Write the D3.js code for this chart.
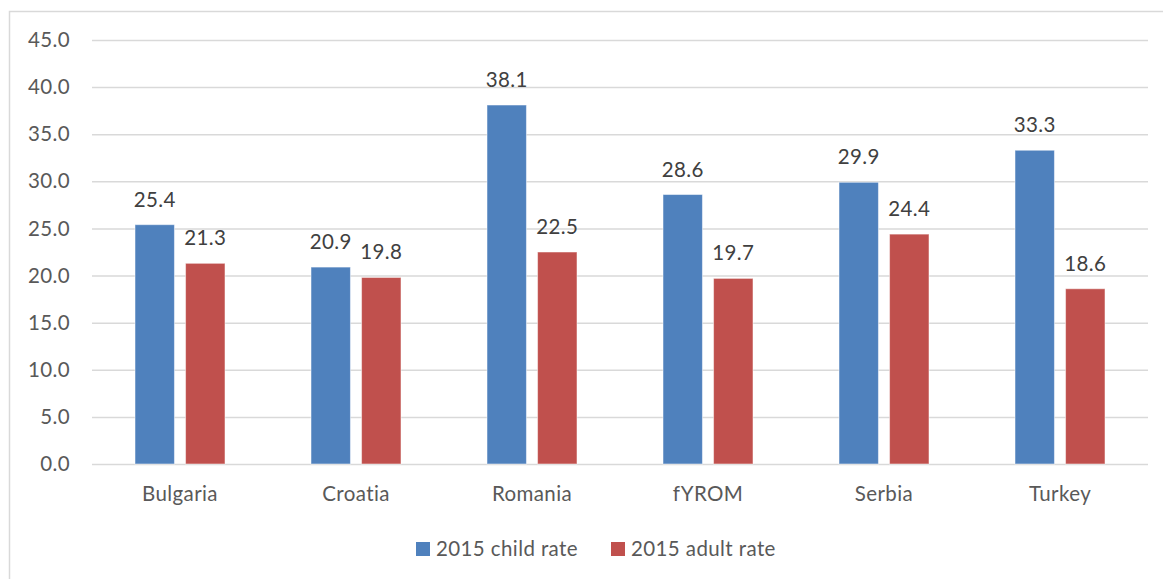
<!DOCTYPE html>
<html>
<head>
<meta charset="utf-8">
<script src="https://cdn.jsdelivr.net/npm/d3@7"></script>
<style>
  html, body { margin: 0; padding: 0; background: #fff; }
  svg { display: block; }
  text { font-family: Lato, "Open Sans", sans-serif; letter-spacing: 0.4px; }
</style>
</head>
<body>
<svg id="chart" width="1163" height="579"></svg>
<script>
// Poverty rates by country, 2015
const categories = ["Bulgaria", "Croatia", "Romania", "fYROM", "Serbia", "Turkey"];
const childRate = [25.4, 20.9, 38.1, 28.6, 29.9, 33.3];
const adultRate = [21.3, 19.8, 22.5, 19.7, 24.4, 18.6];
const seriesNames = ["2015 child rate", "2015 adult rate"];
const seriesColors = ["#4F81BD", "#C0504D"];
const yTicks = [0, 5, 10, 15, 20, 25, 30, 35, 40, 45];

const svg = d3.select("#chart");
const W = 1163, H = 579;
const plot = { left: 92, right: 1148, top: 40, bottom: 464 };
const fontSize = "20.5px";

// outer chart frame
svg.append("rect")
  .attr("x", 9.5).attr("y", 11.5)
  .attr("width", W + 20).attr("height", H + 20)
  .attr("fill", "none").attr("stroke", "#D9D9D9").attr("stroke-width", 1.5);

const x = d3.scaleBand().domain(categories).range([plot.left, plot.right]).padding(0);
const xs = d3.scaleBand().domain(seriesNames).range([43, 133]).paddingInner(0.22).paddingOuter(0);
const y = d3.scaleLinear().domain([0, 45]).range([plot.bottom, plot.top]);

// gridlines + y labels
const yAxis = d3.axisLeft(y).tickValues(yTicks).tickSize(-(plot.right - plot.left)).tickFormat(d3.format(".1f")).tickPadding(22);
const gy = svg.append("g").attr("transform", `translate(${plot.left},0)`).call(yAxis);
gy.select(".domain").remove();
gy.selectAll(".tick line").attr("stroke", "#D9D9D9").attr("stroke-width", 1.5);
gy.selectAll(".tick text").attr("fill", "#595959").style("font-size", fontSize).style("font-family", "Lato, sans-serif");

// x labels
const xAxis = d3.axisBottom(x).tickSize(0).tickPadding(22);
const gx = svg.append("g").attr("transform", `translate(0,${plot.bottom})`).call(xAxis);
gx.select(".domain").remove();
gx.selectAll(".tick text").attr("fill", "#595959").style("font-size", fontSize).style("font-family", "Lato, sans-serif");

const rows = categories.map((c, i) => ({ cat: c, vals: [childRate[i], adultRate[i]] }));

const groups = svg.append("g").selectAll("g").data(rows).join("g")
  .attr("transform", d => `translate(${x(d.cat)},0)`);

groups.selectAll("rect").data(d => d.vals.map((v, j) => ({ s: seriesNames[j], v, j })))
  .join("rect")
  .attr("x", d => xs(d.s))
  .attr("width", xs.bandwidth())
  .attr("y", d => y(d.v))
  .attr("height", d => y(0) - y(d.v))
  .attr("fill", d => seriesColors[d.j])
  .attr("stroke", "#ffffff").attr("stroke-opacity", 0.5).attr("stroke-width", 1);

groups.selectAll("text.val").data(d => d.vals.map((v, j) => ({ s: seriesNames[j], v, j })))
  .join("text")
  .attr("class", "val")
  .attr("x", d => xs(d.s) + xs.bandwidth() / 2)
  .attr("y", d => y(d.v) - 18)
  .attr("text-anchor", "middle")
  .attr("fill", "#404040")
  .style("font-size", fontSize)
  .text(d => d3.format(".1f")(d.v));

// legend
const legendX = [416, 611];
const leg = svg.append("g");
seriesNames.forEach((s, j) => {
  leg.append("rect").attr("x", legendX[j]).attr("y", 542).attr("width", 14).attr("height", 14).attr("fill", seriesColors[j]);
  leg.append("text").attr("x", legendX[j] + 20).attr("y", 556).attr("fill", "#595959")
    .style("font-size", fontSize).text(s);
});
</script>
</body>
</html>
